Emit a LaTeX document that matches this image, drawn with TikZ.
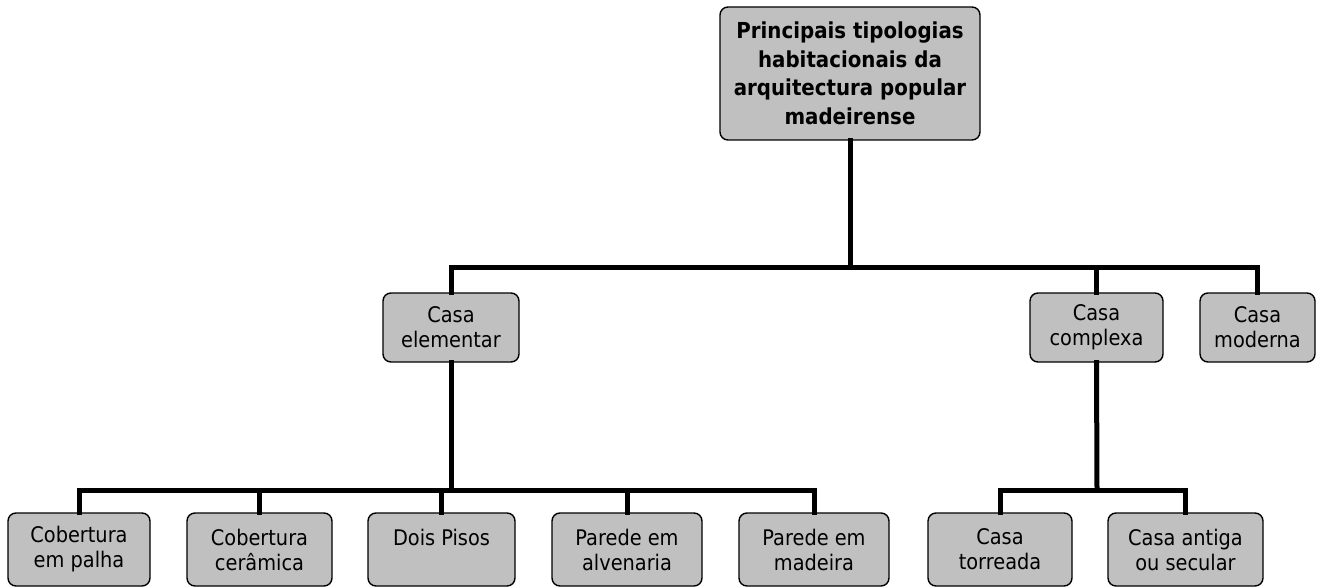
\documentclass[tikz,border=0pt]{standalone}
\usepackage{fontspec}
\setmainfont{DejaVu Sans}[FakeStretch=0.9]
\definecolor{boxgray}{HTML}{C0C0C0}
\begin{document}
\begin{tikzpicture}[x=1pt,y=-1pt,
  box/.style={draw=black, line width=1.4pt, rounded corners=8pt, fill=boxgray,
    inner sep=0pt, align=center, font=\fontsize{21.5}{25}\selectfont},
  conn/.style={line width=5pt, line join=miter, line cap=rect}]
\useasboundingbox (0,0) rectangle (1325,588);
% nodes
\node[box, minimum width=260pt, minimum height=133pt,
  font=\bfseries\fontsize{22}{28.5}\selectfont] (top) at (850,73.5)
  {Principais tipologias\\habitacionais da\\arquitectura popular\\madeirense};
\node[box, minimum width=136pt, minimum height=69pt] (elem) at (451,327.5) {Casa\\elementar};
\node[box, minimum width=133pt, minimum height=69pt] (cplx) at (1096.5,327.5) {Casa\\complexa};
\node[box, minimum width=115pt, minimum height=69pt] (moder) at (1257.5,327.5) {Casa\\moderna};
\node[box, minimum width=142pt, minimum height=73pt] (palha) at (79,549.5) {Cobertura\\em palha};
\node[box, minimum width=145pt, minimum height=73pt] (ceram) at (259.5,549.5) {Cobertura\\cerâmica};
\node[box, minimum width=147pt, minimum height=73pt] (dois) at (441.5,549.5) {Dois Pisos\\\mbox{}};
\node[box, minimum width=150pt, minimum height=73pt] (alv) at (627,549.5) {Parede em\\alvenaria};
\node[box, minimum width=150pt, minimum height=73pt] (mad) at (814,549.5) {Parede em\\madeira};
\node[box, minimum width=144pt, minimum height=73pt] (torr) at (1000,549.5) {Casa\\torreada};
\node[box, minimum width=155pt, minimum height=73pt] (antiga) at (1185.5,549.5) {Casa antiga\\ou secular};
% junctions
\coordinate (j1) at (850,267);
\coordinate (j2) at (451,490);
\coordinate (j3) at (1097,490);
% connectors
\draw[conn] (top.south) -- (j1);
\draw[conn] (elem.north) |- (j1) -| (moder.north);
\draw[conn] (cplx.north) -- (cplx.north |- j1);
\draw[conn] (elem.south) -- (j2);
\draw[conn] (palha.north) |- (mad.north |- j2) -- (mad.north);
\draw[conn] (ceram.north) -- (ceram.north |- j2);
\draw[conn] (dois.north) -- (dois.north |- j2);
\draw[conn] (alv.north) -- (alv.north |- j2);
\draw[conn] (cplx.south) -- (j3);
\draw[conn] (torr.north) |- (antiga.north |- j3) -- (antiga.north);
\end{tikzpicture}
\end{document}
